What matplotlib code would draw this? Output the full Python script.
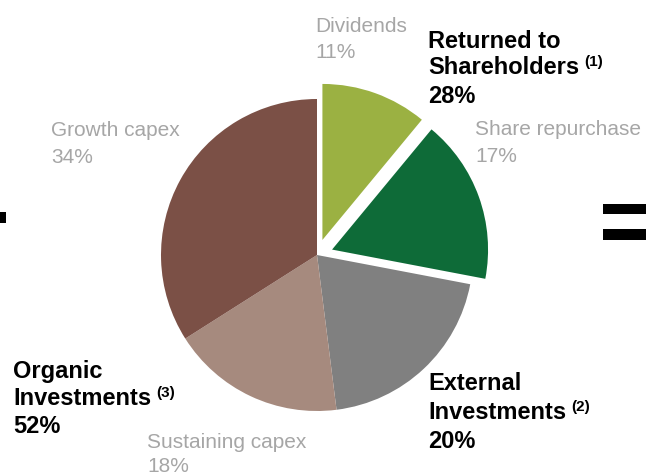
import matplotlib
matplotlib.use("Agg")
import matplotlib.pyplot as plt
from matplotlib.patches import Rectangle

# Capital allocation breakdown (percent of total)
segments = ["Dividends", "Share repurchase", "External investments",
            "Sustaining capex", "Growth capex"]
shares = [11, 17, 20, 18, 34]
colors = ["#9BB142", "#0E6B38", "#808080", "#A68A7E", "#7B5046"]
explode = [16, 16, 0, 0, 0]

# Group totals
group_names = ["Returned to\nShareholders", "External\nInvestments", "Organic\nInvestments"]
group_notes = ["(1)", "(2)", "(3)"]
group_totals = [shares[0] + shares[1], shares[2], shares[3] + shares[4]]

W, H = 646, 477
fig = plt.figure(figsize=(W / 100, H / 100), dpi=100)
ax = fig.add_axes([0, 0, 1, 1])

def Y(y):
    return H - y

ax.pie(shares, colors=colors, explode=explode, startangle=90,
       counterclock=False, center=(317, Y(256)), radius=156,
       wedgeprops=dict(linewidth=0), frame=True)
ax.set_xlim(0, W)
ax.set_ylim(0, H)
ax.set_aspect("equal")
ax.axis("off")

FONT = "Liberation Sans"
GRAY = "#A6A6A6"

def gray_label(x, y1, y2, name, pct):
    ax.text(x, Y(y1), name, fontsize=15, color=GRAY, family=FONT, va="baseline", ha="left")
    ax.text(x, Y(y2), f"{pct}%", fontsize=15, color=GRAY, family=FONT, va="baseline", ha="left")

gray_label(315, 32, 58, segments[0], shares[0])
gray_label(475, 135, 162, segments[1], shares[1])
gray_label(51, 136, 163, segments[4], shares[4])
gray_label(147, 448, 472, segments[3], shares[3])

def bold_label(x, ys, name, note, pct):
    lines = name.split("\n")
    last = None
    for line, y in zip(lines, ys[:2]):
        last = ax.text(x, Y(y), line, fontsize=17, fontweight="bold", color="black",
                       family=FONT, va="baseline", ha="left")
    ax.annotate(note, xy=(1, 1), xycoords=last, xytext=(4, 1),
                textcoords="offset points", fontsize=11, fontweight="bold",
                family=FONT, va="top", ha="left")
    ax.text(x, Y(ys[2]), f"{pct}%", fontsize=17, fontweight="bold", color="black",
            family=FONT, va="baseline", ha="left")

bold_label(428, (48, 74, 103), group_names[0], group_notes[0], group_totals[0])
bold_label(428, (390, 419, 448), group_names[1], group_notes[1], group_totals[1])
bold_label(13, (378, 405, 433), group_names[2], group_notes[2], group_totals[2])

# Operator glyph fragments at the edges
for (x0, y0, w, h) in [(0, 213, 6, 11), (603, 205, 43, 10), (603, 230, 43, 11)]:
    ax.add_patch(Rectangle((x0, Y(y0 + h)), w, h, color="black", lw=0))

fig.savefig("out.png", dpi=100)
